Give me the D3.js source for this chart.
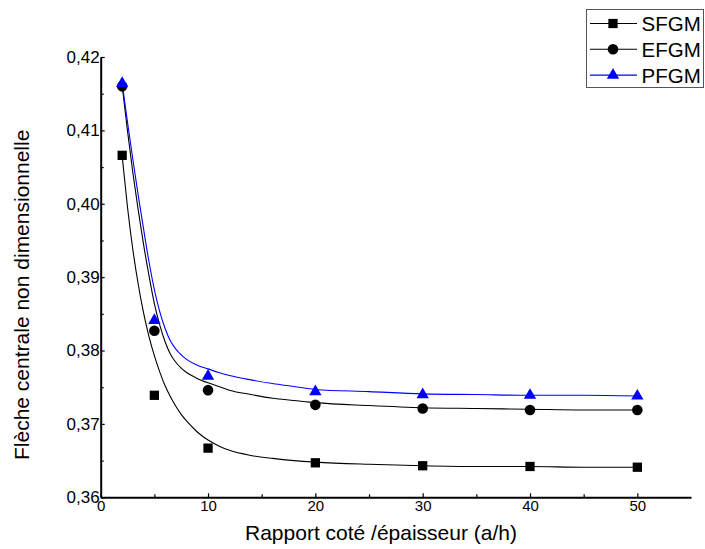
<!DOCTYPE html>
<html>
<head>
<meta charset="utf-8">
<script src="https://d3js.org/d3.v7.min.js"></script>
<style>
  body { margin: 0; background: #fff; }
  svg { display: block; font-family: "Liberation Sans", Arial, sans-serif; }
</style>
</head>
<body>
<script>
// measured points
var ratios = [2, 5, 10, 20, 30, 40, 50];
var sfgm = [0.4066, 0.3739, 0.3667, 0.3647, 0.3643, 0.3642, 0.3641];
var efgm = [0.4160, 0.3827, 0.3746, 0.3726, 0.3721, 0.3719, 0.3719];
var pfgm = [0.4164, 0.3841, 0.3765, 0.3744, 0.3740, 0.3739, 0.3738];

// fitted curves
var fitX = [2, 2.5, 3, 3.5, 4, 4.5, 5, 5.5, 6, 6.5, 7, 7.5, 8, 9, 10, 11, 12, 14, 16, 18, 20, 25, 30, 35, 40, 45, 50];
var fitS = [0.4065, 0.3995, 0.3937, 0.3890, 0.3851, 0.3819, 0.3793, 0.3771, 0.3752, 0.3737, 0.3724, 0.3713, 0.3704, 0.3689, 0.3678,
  0.3670, 0.3664, 0.3657, 0.3653, 0.3650, 0.3648, 0.3645, 0.3643, 0.3642, 0.3642, 0.3641, 0.3641];
var fitE = [0.4161, 0.4099, 0.4042, 0.3991, 0.3944, 0.3902, 0.3864, 0.3835, 0.3812, 0.3795, 0.3784, 0.3776, 0.3770, 0.3762, 0.3756,
  0.3751, 0.3746, 0.3740, 0.3735, 0.3732, 0.3729, 0.3725, 0.3722, 0.3721, 0.3720, 0.3719, 0.3719];
var fitP = [0.4164, 0.4111, 0.4060, 0.4011, 0.3965, 0.3921, 0.3883, 0.3853, 0.3830, 0.3813, 0.3802, 0.3794, 0.3788, 0.3780, 0.3775,
  0.3770, 0.3766, 0.3760, 0.3755, 0.3751, 0.3747, 0.3744, 0.3741, 0.3740, 0.3739, 0.3739, 0.3738];

var xTicks = [0, 10, 20, 30, 40, 50];
var xMinor = [5, 15, 25, 35, 45];
var yTicks = [0.36, 0.37, 0.38, 0.39, 0.40, 0.41, 0.42];
var yTickLabels = ['0,36', '0,37', '0,38', '0,39', '0,40', '0,41', '0,42'];
var yMinor = [0.365, 0.375, 0.385, 0.395, 0.405, 0.415];

var seriesNames = ['SFGM', 'EFGM', 'PFGM'];

var width = 705,
  height = 549;

var x = d3.scaleLinear().domain([0, 55]).range([100.7, 691]);
var y = d3.scaleLinear().domain([0.36, 0.42]).range([497.3, 57]);

var svg = d3.select('body').append('svg').attr('width', width).attr('height', height);

// axes
var xAxis = svg.append('g')
  .attr('transform', 'translate(0,' + y(0.36) + ')')
  .call(d3.axisBottom(x).tickValues(xTicks).tickSizeInner(-4).tickSizeOuter(0).tickPadding(3));
xAxis.selectAll('text').style('font-size', '15px').attr('fill', '#000');

var xMinorAxis = svg.append('g')
  .attr('transform', 'translate(0,' + y(0.36) + ')')
  .call(d3.axisBottom(x).tickValues(xMinor).tickSizeInner(-3).tickSizeOuter(0).tickFormat(''));
xMinorAxis.select('.domain').remove();

var yAxis = svg.append('g')
  .attr('transform', 'translate(' + x(0) + ',0)')
  .call(d3.axisLeft(y).tickValues(yTicks).tickSizeInner(-4).tickSizeOuter(0).tickPadding(1)
    .tickFormat(function(d, i) { return yTickLabels[i]; }));
yAxis.selectAll('text').style('font-size', '17px').attr('fill', '#000');

var yMinorAxis = svg.append('g')
  .attr('transform', 'translate(' + x(0) + ',0)')
  .call(d3.axisLeft(y).tickValues(yMinor).tickSizeInner(-3).tickSizeOuter(0).tickFormat(''));
yMinorAxis.select('.domain').remove();

svg.selectAll('.domain').attr('stroke', '#000').attr('stroke-width', 2);
svg.selectAll('.tick line').attr('stroke', '#000').attr('stroke-width', 1.2);

// titles
svg.append('text')
  .attr('x', 245)
  .attr('y', 540)
  .style('font-size', '21px')
  .text('Rapport coté /épaisseur (a/h)');

svg.append('text')
  .attr('transform', 'translate(29,460) rotate(-90)')
  .style('font-size', '21px')
  .text('Flèche centrale non dimensionnelle');

// fitted curves
var line = d3.line()
  .x(function(d) { return x(d[0]); })
  .y(function(d) { return y(d[1]); })
  .curve(d3.curveMonotoneX);

function drawFit(vals, color) {
  svg.append('path')
    .attr('d', line(fitX.map(function(v, i) { return [v, vals[i]]; })))
    .attr('fill', 'none')
    .attr('stroke', color)
    .attr('stroke-width', 1.1);
}
drawFit(fitS, '#000');
drawFit(fitE, '#000');
drawFit(fitP, '#0000ff');

// markers
var symSquare = d3.symbol().type(d3.symbolSquare).size(86);
var symCircle = d3.symbol().type(d3.symbolCircle).size(88);
var symTriangle = d3.symbol().type(d3.symbolTriangle).size(66);

function drawPoints(vals, sym, color) {
  svg.append('g').selectAll('path')
    .data(vals)
    .enter()
    .append('path')
    .attr('d', sym)
    .attr('transform', function(d, i) { return 'translate(' + x(ratios[i]) + ',' + y(d) + ')'; })
    .attr('fill', color);
}
drawPoints(sfgm, symSquare, '#000');
drawPoints(efgm, symCircle, '#000');
drawPoints(pfgm, symTriangle, '#0000ff');

// legend
var legend = svg.append('g').attr('class', 'legend');
legend.append('rect')
  .attr('x', 586.5)
  .attr('y', 9.5)
  .attr('width', 117)
  .attr('height', 78)
  .attr('fill', '#fff')
  .attr('stroke', '#555')
  .attr('stroke-width', 1);

var legendSyms = [symSquare, symCircle, symTriangle];
var legendColors = ['#000', '#000', '#0000ff'];
seriesNames.forEach(function(name, i) {
  var ly = 23.5 + i * 25.8;
  legend.append('line')
    .attr('x1', 590).attr('x2', 637)
    .attr('y1', ly).attr('y2', ly)
    .attr('stroke', legendColors[i])
    .attr('stroke-width', 1.1);
  legend.append('path')
    .attr('d', legendSyms[i])
    .attr('transform', 'translate(613,' + ly + ')')
    .attr('fill', legendColors[i]);
  legend.append('text')
    .attr('x', 641.5)
    .attr('y', ly + 7.5)
    .style('font-size', '20.5px')
    .text(name);
});
</script>
</body>
</html>
